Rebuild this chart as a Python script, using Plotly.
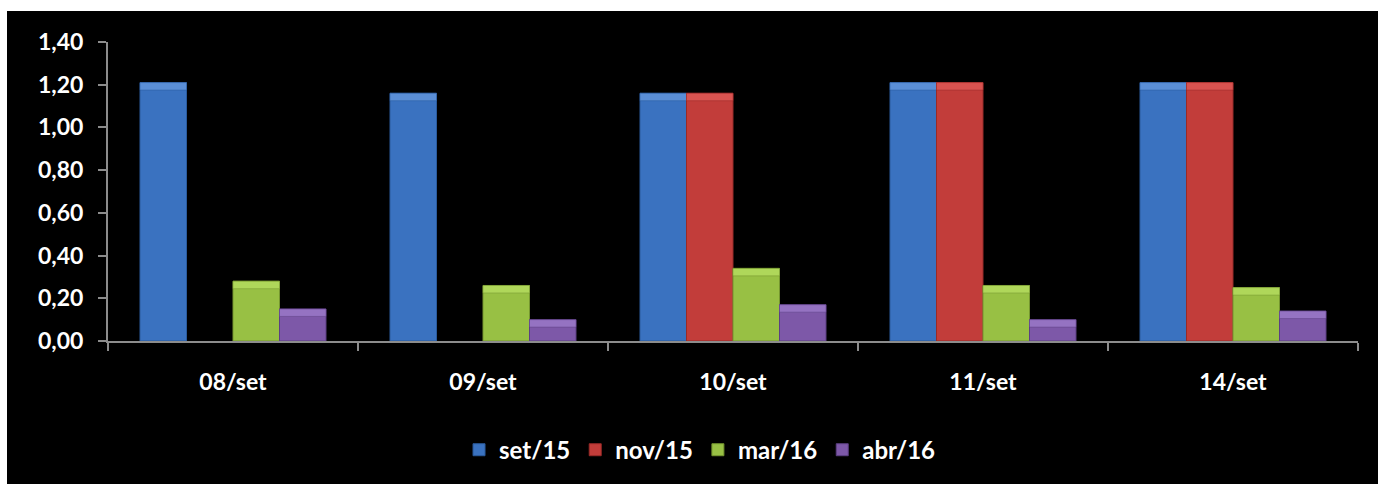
import plotly.graph_objects as go

# Data
categories = ["08/set", "09/set", "10/set", "11/set", "14/set"]
series_names = ["set/15", "nov/15", "mar/16", "abr/16"]
set15 = [1.21, 1.16, 1.16, 1.21, 1.21]
nov15 = [None, None, 1.16, 1.21, 1.21]
mar16 = [0.28, 0.26, 0.34, 0.26, 0.25]
abr16 = [0.15, 0.10, 0.17, 0.10, 0.14]
y_ticks = [0.0, 0.2, 0.4, 0.6, 0.8, 1.0, 1.2, 1.4]

series_values = [set15, nov15, mar16, abr16]
body_colors = ["#3a72c0", "#c23d3a", "#98c044", "#7d58a8"]
edge_colors = ["#2a5a9c", "#992a28", "#74952f", "#5c3f82"]
cap_colors = ["#5a8ed6", "#d95350", "#afd75a", "#9573c2"]

W, H = 1378, 484
ML, MR, MT, MB = 108, 20, 42, 143
FONT = "Lato"
AXIS_GRAY = "#8c8c8c"
CAP = 0.035  # height of the bevel highlight, in axis units

fig = go.Figure()

for i, (name, vals) in enumerate(zip(series_names, series_values)):
    fig.add_trace(go.Bar(
        name=name, x=categories, y=vals, offsetgroup=str(i),
        marker=dict(color=body_colors[i], line=dict(color=edge_colors[i], width=1)),
        hoverinfo="x+y+name",
    ))
    # lighter top face to suggest the bevelled bar look
    fig.add_trace(go.Bar(
        x=categories,
        y=[CAP if v is not None else None for v in vals],
        base=[v - CAP if v is not None else None for v in vals],
        offsetgroup=str(i), showlegend=False, hoverinfo="skip",
        marker=dict(color=cap_colors[i], line=dict(color=edge_colors[i], width=0.5)),
    ))

# white strips along the top and left edge of the page
pw, ph = W - ML - MR, H - MT - MB
fig.add_shape(type="rect", xref="paper", yref="paper", layer="above",
              x0=-ML / pw, x1=(W - ML) / pw, y0=(H - MB - 11) / ph, y1=(H - MB) / ph,
              fillcolor="white", line_width=0)
fig.add_shape(type="rect", xref="paper", yref="paper", layer="above",
              x0=-ML / pw, x1=(7 - ML) / pw, y0=-MB / ph, y1=(H - MB) / ph,
              fillcolor="white", line_width=0)

fig.update_layout(
    width=W, height=H,
    margin=dict(l=ML, r=MR, t=MT, b=MB),
    paper_bgcolor="black", plot_bgcolor="black",
    barmode="group", bargap=0.256, bargroupgap=0,
    separators=",.",
    font=dict(family=FONT, color="white", size=23, weight="bold"),
    showlegend=True,
    legend=dict(orientation="h", xref="container", yref="container",
                x=0.508, y=0.07, xanchor="center", yanchor="middle",
                font=dict(family=FONT, size=24, color="white", weight="bold"),
                bgcolor="rgba(0,0,0,0)", itemwidth=30, traceorder="normal"),
)

fig.update_xaxes(
    type="category", showgrid=False, zeroline=False,
    showline=True, linecolor=AXIS_GRAY, linewidth=2,
    ticks="outside", tickson="boundaries", ticklen=8, tickcolor=AXIS_GRAY, tickwidth=2,
    ticklabelstandoff=19,
    tickfont=dict(family=FONT, size=23, color="white", weight="bold"),
)
fig.update_yaxes(
    range=[0, 1.4], tickvals=y_ticks, tickformat=".2f",
    showgrid=False, zeroline=False,
    showline=True, linecolor=AXIS_GRAY, linewidth=2,
    ticks="outside", ticklen=8, tickcolor=AXIS_GRAY, tickwidth=2,
    ticklabelstandoff=10,
    tickfont=dict(family=FONT, size=23, color="white", weight="bold"),
)

fig.write_html("out.html")
